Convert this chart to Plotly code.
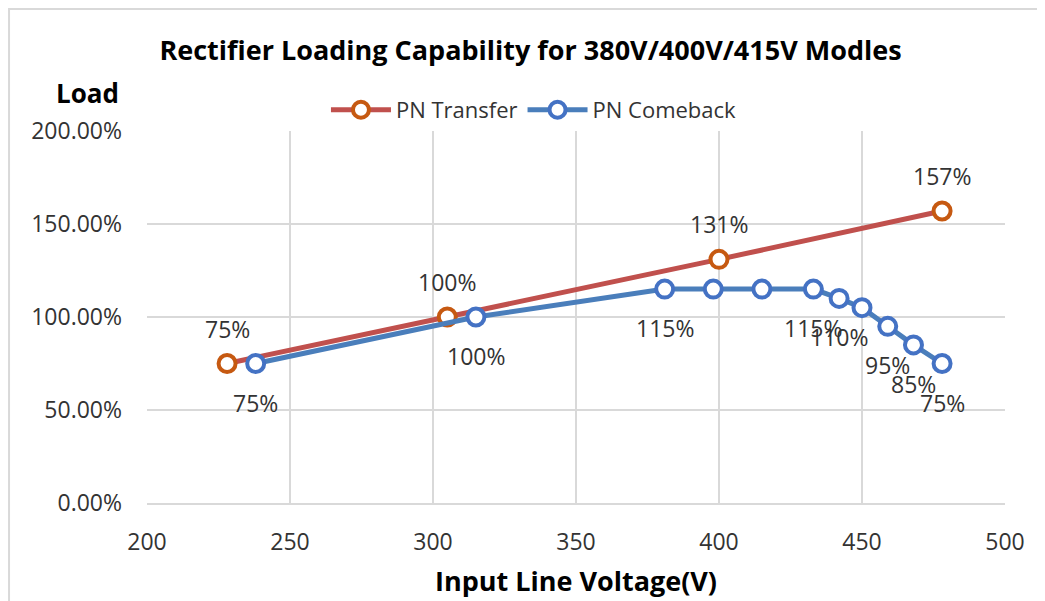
import plotly.graph_objects as go

transfer_v = [228, 305, 400, 478]
transfer_load = [75, 100, 131, 157]
transfer_labels = ["75%", "100%", "131%", "157%"]

comeback_v = [238, 315, 381, 398, 415, 433, 442, 450, 459, 468, 478]
comeback_load = [75, 100, 115, 115, 115, 115, 110, 105, 95, 85, 75]
comeback_labels = ["75%", "100%", "115%", "", "", "115%", "110%", "", "95%", "85%", "75%"]

x_ticks = [200, 250, 300, 350, 400, 450, 500]
y_ticks = [0, 50, 100, 150, 200]
y_tick_text = ["0.00%", "50.00%", "100.00%", "150.00%", "200.00%"]

FONT = "Open Sans"
TXT = "#333333"

fig = go.Figure()
fig.add_trace(go.Scatter(
    x=transfer_v, y=transfer_load, name="PN Transfer", mode="lines+markers",
    line=dict(color="#C0504D", width=5),
    marker=dict(symbol="circle", size=17, color="white", line=dict(color="#C65911", width=4)),
))
fig.add_trace(go.Scatter(
    x=comeback_v, y=comeback_load, name="PN Comeback", mode="lines+markers",
    line=dict(color="#4A7EBB", width=5),
    marker=dict(symbol="circle", size=17, color="white", line=dict(color="#4472C4", width=4)),
))

for xv, yv, t in zip(transfer_v, transfer_load, transfer_labels):
    if t:
        fig.add_annotation(x=xv, y=yv, text=t, showarrow=False, yshift=35,
                           font=dict(size=23, color=TXT, family=FONT))
for xv, yv, t in zip(comeback_v, comeback_load, comeback_labels):
    if t:
        fig.add_annotation(x=xv, y=yv, text=t, showarrow=False, yshift=-39,
                           font=dict(size=23, color=TXT, family=FONT))

fig.add_annotation(x=-0.0688, y=1.102, xref="paper", yref="paper", text="<b>Load</b>",
                   showarrow=False, xanchor="center", yanchor="middle",
                   font=dict(size=26, color="black", family=FONT))

fig.update_layout(
    width=1045, height=601,
    paper_bgcolor="white", plot_bgcolor="white",
    margin=dict(l=139, r=48, t=123, b=106),
    title=dict(text="<b>Rectifier Loading Capability for 380V/400V/415V Modles</b>",
               x=0.5, xanchor="center", y=0.930, yanchor="middle",
               font=dict(size=27, color="black", family=FONT)),
    legend=dict(orientation="h", x=0.451, xanchor="center", y=1.0565, yanchor="middle",
                itemwidth=60, font=dict(size=22, color=TXT, family=FONT)),
    xaxis=dict(range=[200, 500], tickvals=x_ticks,
               showgrid=True, gridcolor="#D9D9D9", gridwidth=2,
               showline=True, linecolor="#D9D9D9", linewidth=2,
               ticks="", ticklabelstandoff=17,
               tickfont=dict(size=23, color=TXT, family=FONT),
               title=dict(text="<b>Input Line Voltage(V)</b>", standoff=17,
                          font=dict(size=27, color="black", family=FONT)),
               zeroline=False),
    yaxis=dict(range=[0, 200], tickvals=y_ticks, ticktext=y_tick_text,
               showgrid=True, gridcolor="#D9D9D9", gridwidth=2,
               showline=False, ticks="", ticklabelstandoff=24,
               tickfont=dict(size=23, color=TXT, family=FONT), zeroline=False),
    shapes=[dict(type="rect", xref="paper", yref="paper", x0=-0.1608, x1=1.2, y0=-0.5, y1=1.328,
                 line=dict(color="#D9D9D9", width=2), fillcolor="rgba(0,0,0,0)", layer="below")],
)

fig.write_html("out.html")
